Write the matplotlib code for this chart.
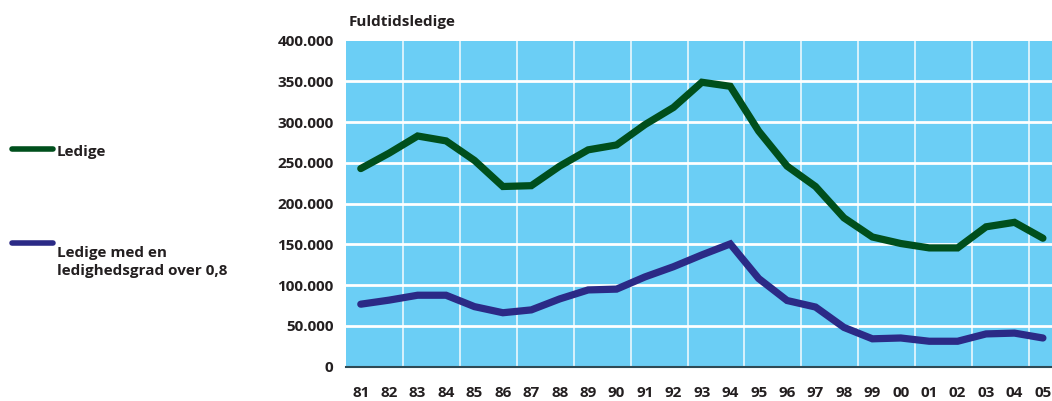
import matplotlib
matplotlib.use("Agg")
import matplotlib.pyplot as plt
from matplotlib.lines import Line2D
from matplotlib.ticker import FuncFormatter, FixedLocator

years = ["81", "82", "83", "84", "85", "86", "87", "88", "89", "90", "91", "92",
         "93", "94", "95", "96", "97", "98", "99", "00", "01", "02", "03", "04", "05"]
ledige = [243000, 262000, 283000, 277000, 253000, 221000, 222000, 246000, 266000,
          272000, 297000, 318000, 349000, 344000, 289000, 246000, 221000, 182500,
          159000, 151000, 145600, 145600, 171500, 177000, 157500]
ledige_08 = [76500, 81500, 87500, 87500, 73500, 66000, 69500, 83000, 94000, 95000,
             110000, 122500, 137000, 150500, 108000, 81000, 73000, 48000, 34000,
             35000, 31000, 31000, 40000, 41000, 35000]
y_ticks = [0, 50000, 100000, 150000, 200000, 250000, 300000, 350000, 400000]
series_labels = ["Ledige", "Ledige med en\nledighedsgrad over 0,8"]
title = "Fuldtidsledige"

plt.rcParams['font.family'] = ['Open Sans', 'DejaVu Sans']

GREEN = "#004F1C"
BLUE = "#2B2A86"
BG = "#6BCEF5"
TXT = "#231F20"

fig = plt.figure(figsize=(10.52, 4.01), dpi=100)
ax = fig.add_axes([346/1052, 1 - 366.5/401, 1 - 346/1052, (366.5 - 40.7)/401])
ax.set_facecolor(BG)

x = list(range(len(years)))
ax.plot(x, ledige, color=GREEN, lw=5.2, solid_capstyle='round', solid_joinstyle='miter', zorder=3)
ax.plot(x, ledige_08, color=BLUE, lw=5.2, solid_capstyle='round', solid_joinstyle='miter', zorder=3)

ax.set_xlim(-0.52, 24.32)
ax.set_ylim(0, 400000)
ax.set_xticks(x)
ax.set_xticklabels(years)
ax.set_yticks(y_ticks)
ax.yaxis.set_major_formatter(FuncFormatter(lambda v, p: "0" if v == 0 else f"{int(v):,}".replace(",", ".")))

# gridlines
for v in y_ticks[1:-1]:
    ax.axhline(v, color="white", lw=2.0, zorder=1)
ax.xaxis.set_minor_locator(FixedLocator([i + 0.5 for i in range(1, 24, 2)]))
ax.grid(True, which='minor', axis='x', color="#EAF7FD", lw=1.2, zorder=1)
ax.set_axisbelow(True)

for s in ["top", "right", "left"]:
    ax.spines[s].set_visible(False)
ax.spines["bottom"].set_color("#2E4A55")
ax.spines["bottom"].set_linewidth(1.5)

ax.tick_params(axis='both', which='both', length=0)
ax.tick_params(axis='y', pad=9, labelsize=11, labelcolor=TXT)
ax.tick_params(axis='x', pad=14, labelsize=11, labelcolor=TXT)
for lab in ax.get_xticklabels() + ax.get_yticklabels():
    lab.set_fontweight('bold')

fig.text(349/1052, 1 - 22/401, title, fontsize=11, fontweight='bold', color=TXT,
         ha='left', va='center')

# legend
fig.add_artist(Line2D([12/1052, 53/1052], [1 - 149/401, 1 - 149/401], color=GREEN,
                      lw=4, solid_capstyle='round', transform=fig.transFigure))
fig.add_artist(Line2D([12/1052, 53/1052], [1 - 243/401, 1 - 243/401], color=BLUE,
                      lw=4, solid_capstyle='round', transform=fig.transFigure))
fig.text(57/1052, 1 - 152/401, series_labels[0], fontsize=11, fontweight='bold',
         color=TXT, ha='left', va='center')
fig.text(57/1052, 1 - 246/401, series_labels[1], fontsize=11, fontweight='bold',
         color=TXT, ha='left', va='top', linespacing=1.35,
         transform=fig.transFigure)

fig.savefig("out.png", dpi=100)
